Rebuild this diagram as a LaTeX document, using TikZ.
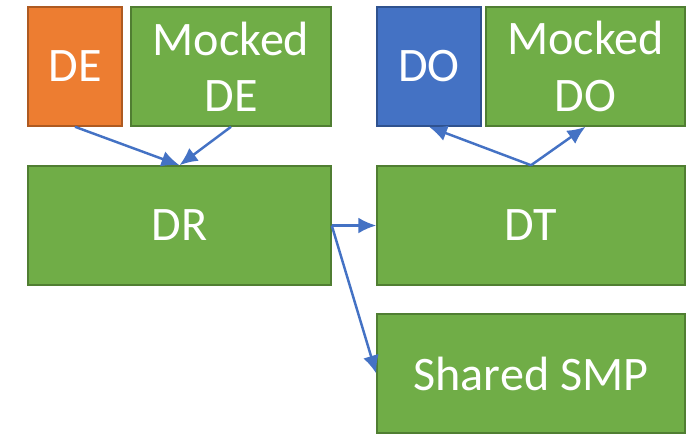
\documentclass[tikz,border=0pt]{standalone}
\usepackage{fontspec}
\setmainfont{Carlito}
\usetikzlibrary{arrows.meta}
\definecolor{boxgreen}{HTML}{70AD47}
\definecolor{boxgreenline}{HTML}{507E32}
\definecolor{boxorange}{HTML}{ED7D31}
\definecolor{boxorangeline}{HTML}{AE5A21}
\definecolor{boxblue}{HTML}{4472C4}
\definecolor{boxblueline}{HTML}{2F528F}
\tikzset{
  block/.style={rectangle,inner sep=0pt,minimum height=2.38cm,text=white,align=center,
    font=\fontsize{27.4}{32}\selectfont,line width=0.9pt},
  greenblock/.style={block,fill=boxgreen,draw=boxgreenline},
  link/.style={draw=boxblue,line width=1.4pt,-{Latex[length=3.6mm,width=3.2mm]}}
}
\begin{document}
\begin{tikzpicture}[x=0.02cm,y=-0.02cm]
\useasboundingbox (0,0) rectangle (692,434);
% upper row
\node[block,fill=boxorange,draw=boxorangeline,minimum width=1.88cm] (de) at (75,66.5) {DE};
\node[greenblock,minimum width=4cm] (mde) at (231,66.5) {Mocked\\DE};
\node[block,fill=boxblue,draw=boxblueline,minimum width=2.08cm] (do) at (429,66.5) {DO};
\node[greenblock,minimum width=3.98cm] (mdo) at (585.5,66.5) {Mocked\\DO};
% lower boxes
\node[greenblock,minimum width=6.06cm] (dr) at (179.5,225.5) {DR};
\node[greenblock,minimum width=6.16cm] (dt) at (531,225.5) {DT};
\node[greenblock,minimum width=6.16cm] (smp) at (531,373.5) {Shared SMP};
% connectors
\draw[link] (de.south) -- (dr.north);
\draw[link] (mde.south) -- (dr.north);
\draw[link] (dt.north) -- (do.south);
\draw[link] (dt.north) -- (mdo.south);
\draw[link] (dr.east) -- (dt.west);
\draw[link] (dr.east) -- (smp.west);
\end{tikzpicture}
\end{document}
